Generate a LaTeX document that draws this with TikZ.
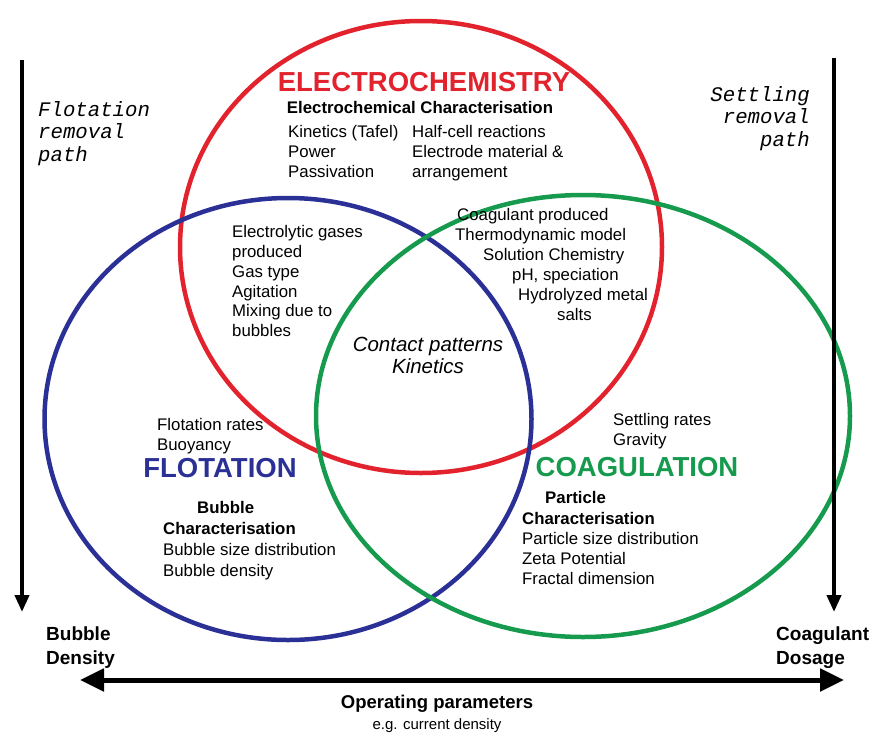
\documentclass[tikz,border=0pt]{standalone}
\usepackage{fontspec}
\setmainfont{Liberation Sans}
\newfontfamily\pathfont{Liberation Mono}
\usetikzlibrary{arrows.meta}
\definecolor{echemred}{RGB}{226,35,45}
\definecolor{flotblue}{RGB}{42,48,150}
\definecolor{coaggreen}{RGB}{22,155,78}
\tikzset{
  ring/.style={line width=4.5pt},
  body/.style={inner sep=0pt, align=left, font=\fontsize{16.8}{20}\selectfont},
  head/.style={inner sep=0pt, font=\fontsize{27.5}{30}\selectfont\bfseries},
  removal/.style={inner sep=0pt, font=\pathfont\itshape\fontsize{20.7}{22.5}\selectfont},
  paramlbl/.style={inner sep=0pt, align=left, font=\fontsize{19}{24}\selectfont\bfseries},
  pathline/.style={line width=4pt, -{Triangle[width=14pt,length=17pt]}},
}
\begin{document}
\begin{tikzpicture}[x=1pt,y=-1pt]
\useasboundingbox (0,0) rectangle (875,736);
\draw[ring, echemred] (421,247) ellipse [x radius=241pt, y radius=226pt];
\draw[ring, flotblue] (288,419) ellipse [x radius=243.5pt, y radius=221pt];
\draw[ring, coaggreen] (583,416) ellipse [x radius=267pt, y radius=221pt];

\node[head, text=echemred] (echem) at (424,82) {ELECTROCHEMISTRY};
\node[body, font=\fontsize{16.8}{20}\selectfont\bfseries] (echar) at (420,107) {Electrochemical Characterisation};
\node[body, anchor=north west] (kin) at (288,125.6) {Kinetics (Tafel)\\Power\\Passivation};
\node[body, anchor=north west] (half) at (412,125.6) {Half-cell reactions\\Electrode material \&\\arrangement};

\node[body, anchor=north west, font=\fontsize{16.8}{19.7}\selectfont] (gases) at (232,225.6)
  {Electrolytic gases\\produced\\Gas type\\Agitation\\Mixing due to\\bubbles};
\node[body, anchor=north west] (coagprod) at (455,208.6)
  {\hspace*{2pt}Coagulant produced\\Thermodynamic model\\\hspace*{28pt}Solution Chemistry\\
   \hspace*{57pt}pH, speciation\\\hspace*{63pt}Hydrolyzed metal\\\hspace*{102pt}salts};
\node[body, align=center, font=\fontsize{20.5}{22}\selectfont\itshape] (contact) at (428,355)
  {Contact patterns\\Kinetics};

\node[body, anchor=north west] (flotrate) at (157,418.6) {Flotation rates\\Buoyancy};
\node[head, text=flotblue] (flot) at (220,468) {FLOTATION};
\node[body, anchor=north west, font=\fontsize{16.8}{20.7}\selectfont] (bubchar) at (163,501.6)
  {\hspace*{34pt}\textbf{Bubble}\\\textbf{Characterisation}\\Bubble size distribution\\Bubble density};

\node[body, anchor=north west] (settle) at (613,413.6) {Settling rates\\Gravity};
\node[head, text=coaggreen] (coag) at (637,467) {COAGULATION};
\node[body, anchor=north west, font=\fontsize{16.8}{20.2}\selectfont] (partchar) at (522,491.6)
  {\hspace*{23pt}\textbf{Particle}\\\textbf{Characterisation}\\Particle size distribution\\Zeta Potential\\Fractal dimension};

\node[removal, anchor=north west, align=left] (flotpath) at (38,101) {Flotation\\removal\\path};
\node[removal, anchor=north east, align=right] (settlepath) at (810,86) {Settling\\removal\\path};

\coordinate (ltop) at (22,60);
\coordinate (lbot) at (22,612);
\coordinate (rtop) at (834,58);
\coordinate (rbot) at (834,612);
\draw[pathline] (ltop) -- (lbot);
\draw[pathline] (rtop) -- (rbot);

\node[paramlbl, anchor=north west] (bubden) at (46,627) {Bubble\\Density};
\node[paramlbl, anchor=north west] (coagdose) at (776,627) {Coagulant\\Dosage};
\coordinate (opl) at (80,680);
\coordinate (opr) at (844,680);
\draw[line width=5pt, {Triangle[width=22pt,length=24pt]}-{Triangle[width=22pt,length=24pt]}] (opl) -- (opr);
\node[inner sep=0pt, font=\fontsize{18.5}{22}\selectfont\bfseries] (oppar) at (437,704) {Operating parameters};
\node[inner sep=0pt, font=\fontsize{15}{16}\selectfont] (eg) at (437,726) {e.g. current density};
\end{tikzpicture}
\end{document}
